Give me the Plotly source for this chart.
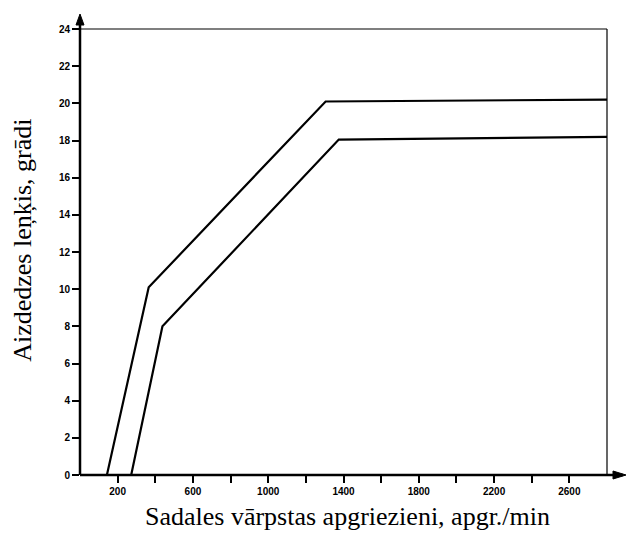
import plotly.graph_objects as go

# Ignition advance vs distributor shaft speed: two characteristic curves
rpm_upper = [143, 365, 1305, 2800]
deg_upper = [0, 10.1, 20.1, 20.2]
rpm_lower = [272, 438, 1375, 2800]
deg_lower = [0, 8.0, 18.05, 18.2]

x_tick_vals = [200, 400, 600, 800, 1000, 1200, 1400, 1600, 1800, 2000, 2200, 2400, 2600]
x_tick_text = ["200", "", "600", "", "1000", "", "1400", "", "1800", "", "2200", "", "2600"]
y_tick_vals = [0, 2, 4, 6, 8, 10, 12, 14, 16, 18, 20, 22, 24]

x_title = "Sadales vārpstas apgriezieni, apgr./min"
y_title = "Aizdedzes leņķis, grādi"

line_style = dict(color="black", width=2.2)

fig = go.Figure()
fig.add_trace(go.Scatter(x=rpm_upper, y=deg_upper, mode="lines", line=line_style,
                         showlegend=False, hoverinfo="skip"))
fig.add_trace(go.Scatter(x=rpm_lower, y=deg_lower, mode="lines", line=line_style,
                         showlegend=False, hoverinfo="skip"))

tick_font = dict(family="Liberation Sans", size=10, color="black", weight="bold")
title_font = dict(family="Liberation Serif", size=26, color="black")

fig.update_layout(
    width=626, height=533,
    margin=dict(l=80, r=19, t=29, b=58),
    paper_bgcolor="white", plot_bgcolor="white",
    xaxis=dict(
        range=[0, 2800], tickmode="array", tickvals=x_tick_vals, ticktext=x_tick_text,
        ticks="outside", ticklen=7, tickwidth=2, tickcolor="black",
        showgrid=False, zeroline=False, showline=False,
        tickfont=tick_font,
    ),
    yaxis=dict(
        range=[0, 24], tickmode="array", tickvals=y_tick_vals,
        ticks="outside", ticklen=7, tickwidth=2, tickcolor="black",
        showgrid=False, zeroline=False, showline=False,
        tickfont=tick_font,
    ),
)

# Axis titles
fig.add_annotation(text=x_title, xref="paper", yref="paper", x=0.507, y=0,
                   xanchor="center", yanchor="middle", yshift=-41,
                   showarrow=False, font=title_font)
fig.add_annotation(text=y_title, xref="paper", yref="paper", x=0, y=0.525,
                   xanchor="center", yanchor="middle", xshift=-57, textangle=-90,
                   showarrow=False, font=title_font)

axis_line = dict(color="black", width=2.5)
border_line = dict(color="black", width=1.2)

# Frame: heavy left/bottom axes that run past the plot, light top/right border
fig.add_shape(type="line", xref="paper", yref="paper", x0=0, x1=0, y0=0, y1=1,
              line=axis_line)
fig.add_shape(type="line", xref="paper", yref="paper", x0=0, x1=1.03, y0=0, y1=0,
              line=axis_line)
fig.add_shape(type="line", xref="paper", yref="paper", x0=0, x1=1, y0=1, y1=1,
              line=border_line)
fig.add_shape(type="line", xref="paper", yref="paper", x0=1, x1=1, y0=0, y1=1,
              line=border_line)

# Arrow heads at the axis ends
fig.add_shape(type="line", xref="paper", yref="paper", xsizemode="pixel", ysizemode="pixel",
              xanchor=0, yanchor=1, x0=0, x1=0, y0=0, y1=8, line=axis_line)
fig.add_shape(type="path", xref="paper", yref="paper", xsizemode="pixel", ysizemode="pixel",
              xanchor=0, yanchor=1, path="M -4 4 L 4 4 L 0 15 Z",
              line=dict(color="black", width=1), fillcolor="black")
fig.add_shape(type="path", xref="paper", yref="paper", xsizemode="pixel", ysizemode="pixel",
              xanchor=1, yanchor=0, path="M 6 -4 L 6 4 L 19 0 Z",
              line=dict(color="black", width=1), fillcolor="black")

fig.write_html("out.html")
